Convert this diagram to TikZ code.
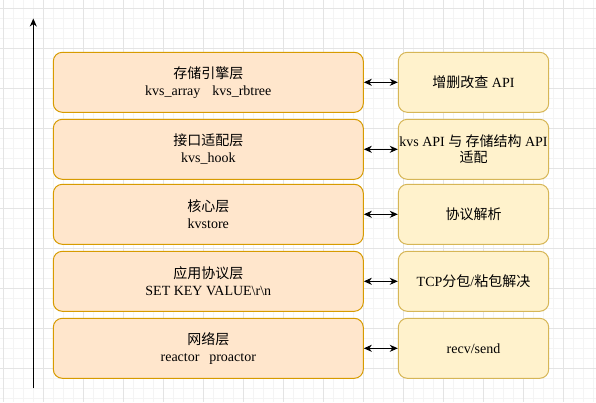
\documentclass[tikz,border=0pt]{standalone}
\usepackage{fontspec}
\setmainfont{Liberation Serif}
\newfontfamily\cjk{Noto Sans CJK SC}
\usetikzlibrary{arrows.meta}
\definecolor{lfill}{HTML}{FFE6CC}
\definecolor{ldraw}{HTML}{D79B00}
\definecolor{rfill}{HTML}{FFF2CC}
\definecolor{rdraw}{HTML}{D6B656}
\definecolor{gmajor}{HTML}{E4E4E4}
\definecolor{gminor}{HTML}{F4F4F4}
\tikzset{
  layerbox/.style={draw=ldraw, fill=lfill, line width=1pt, rounded corners=9pt,
    minimum width=310pt, minimum height=60pt, inner sep=0pt, align=center,
    font=\fontsize{14}{17}\selectfont},
  funcbox/.style={draw=rdraw, fill=rfill, line width=1pt, rounded corners=9pt,
    minimum width=150.4pt, minimum height=60pt, inner sep=0pt, align=center,
    font=\fontsize{14}{16}\selectfont},
  link/.style={line width=1pt, {Stealth[length=8pt,width=7pt,inset=2.5pt]}-{Stealth[length=8pt,width=7pt,inset=2.5pt]}},
  axis/.style={line width=1pt, -{Stealth[length=8pt,width=7pt,inset=2.5pt]}}
}
\begin{document}
\begin{tikzpicture}[x=1pt,y=-1pt]
\useasboundingbox (0,0) rectangle (596,402);
\fill[white] (0,0) rectangle (596,402);
% grid
\foreach \i in {0,...,59} {\draw[gminor, line width=0.6pt] (3.3+\i*10,0) -- (3.3+\i*10,402);}
\foreach \j in {0,...,40} {\draw[gminor, line width=0.6pt] (0,8.3+\j*10) -- (596,8.3+\j*10);}
\foreach \i in {0,...,14} {\draw[gmajor, line width=0.8pt] (3.3+\i*40,0) -- (3.3+\i*40,402);}
\foreach \j in {0,...,10} {\draw[gmajor, line width=0.8pt] (0,8.3+\j*40) -- (596,8.3+\j*40);}
% axis
\coordinate (axb) at (33.3,388.3);
\coordinate (axt) at (33.3,18.5);
\draw[axis] (axb) -- (axt);
% layers
\node[layerbox] (L1) at (208.3,82.3) {{\cjk 存储引擎层}\\kvs\_array\hspace{0.85em}kvs\_rbtree};
\node[layerbox] (L2) at (208.3,149.3) {{\cjk 接口适配层}\\kvs\_hook};
\node[layerbox] (L3) at (208.3,214.3) {{\cjk 核心层}\\kvstore};
\node[layerbox] (L4) at (208.3,281.3) {{\cjk 应用协议层}\\SET KEY VALUE\textbackslash r\textbackslash n};
\node[layerbox] (L5) at (208.3,348.3) {{\cjk 网络层}\\reactor\hspace{0.7em}proactor};
% functions
\node[funcbox] (R1) at (473.5,82.3) {{\cjk 增删改查} API};
\node[funcbox] (R2) at (473.5,149.3) {kvs API {\cjk 与 存储结构} API\\{\cjk 适配}};
\node[funcbox] (R3) at (473.5,214.3) {{\cjk 协议解析}};
\node[funcbox] (R4) at (473.5,281.3) {TCP{\cjk 分包}/{\cjk 粘包解决}};
\node[funcbox] (R5) at (473.5,348.3) {recv/send};
% links
\foreach \k in {1,...,5} {\draw[link] (L\k.east) -- (R\k.west);}
\end{tikzpicture}
\end{document}
